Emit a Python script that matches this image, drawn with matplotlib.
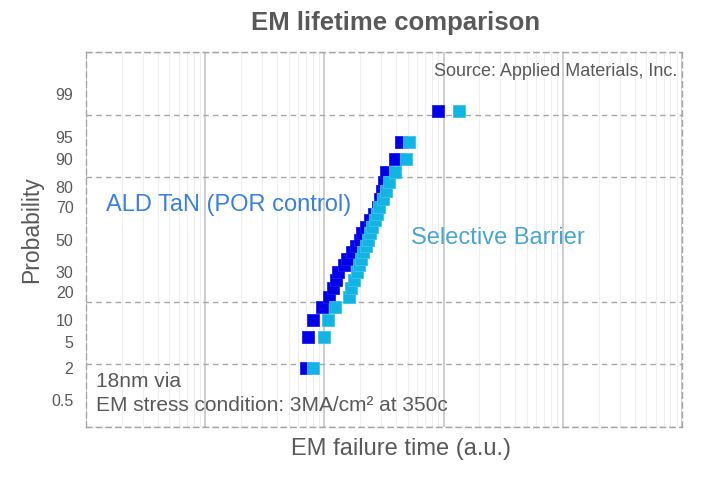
import numpy as np
import matplotlib
matplotlib.use("Agg")
import matplotlib.pyplot as plt
from matplotlib.ticker import FixedLocator, NullFormatter, LogLocator
from statistics import NormalDist

plt.rcParams['font.family'] = ['Liberation Sans', 'DejaVu Sans']

# cumulative failure probability (%) for each ranked sample (25 per split)
prob = [2, 6, 10, 14, 18, 22, 26, 30, 34, 38, 42, 46, 50,
        54, 58, 62, 66, 70, 74, 78, 82, 86, 90, 94, 98]

# failure times (a.u.)
ald_tan = [70, 73, 80, 95, 109, 118, 125, 130, 146, 155, 170, 184, 199,
           207, 223, 241, 261, 282, 293, 304, 316, 329, 391, 439, 898]
selective = [80, 100, 107, 123, 161, 167, 177, 188, 195, 203, 211, 223, 232,
             241, 251, 266, 276, 287, 310, 329, 348, 391, 484, 513, 1346]

prob_ticks = [0.5, 2, 5, 10, 20, 30, 50, 70, 80, 90, 95, 99]
prob_labels = ['0.5', '2', '5', '10', '20', '30', '50', '70', '80', '90', '95', '99']

nd = NormalDist()


def prob_to_z(p):
    p = np.clip(np.asarray(p, dtype=float), 1e-9, 100 - 1e-9)
    return np.array([nd.inv_cdf(v / 100) for v in p.ravel()]).reshape(p.shape)


def z_to_prob(z):
    z = np.asarray(z, dtype=float)
    return np.array([nd.cdf(v) * 100 for v in z.ravel()]).reshape(z.shape)


gray = '#595959'
fig = plt.figure(figsize=(7.16, 4.79), dpi=100)
ax = fig.add_axes([0.1201, 0.1086, 0.8324, 0.7828])

ax.set_xscale('log')
ax.set_yscale('function', functions=(prob_to_z, z_to_prob))

ax.scatter(ald_tan, prob, marker='s', s=75, color='#0000e6',
           edgecolors='#1a1aff', linewidths=0.6, zorder=3)
ax.scatter(selective, prob, marker='s', s=75, color='#12b4e4',
           edgecolors='#3cc2ea', linewidths=0.6, zorder=3)

ax.set_xlim(1, 1e5)
ax.set_ylim(float(z_to_prob(-3)), float(z_to_prob(3)))

# y ticks: labelled probabilities, grid at whole sigma
ax.yaxis.set_major_locator(FixedLocator(prob_ticks))
ax.set_yticklabels(prob_labels)
ax.yaxis.set_minor_locator(FixedLocator(list(z_to_prob(np.arange(-3, 4)))))
ax.yaxis.set_minor_formatter(NullFormatter())
ax.grid(which='minor', axis='y', color='#a6a6a6', linestyle=(0, (4, 3)), linewidth=1.0)

ax.xaxis.set_major_locator(LogLocator(base=10, numticks=10))
ax.xaxis.set_minor_locator(LogLocator(base=10, subs=np.arange(2, 10), numticks=10))
ax.xaxis.set_major_formatter(NullFormatter())
ax.xaxis.set_minor_formatter(NullFormatter())
ax.grid(which='major', axis='x', color='#c6c6c6', linestyle='-', linewidth=1.2)
ax.grid(which='minor', axis='x', color='#efefef', linestyle='-', linewidth=0.8)
ax.set_axisbelow(True)

ax.tick_params(which='both', length=0)
ax.tick_params(axis='y', labelsize=11.5, labelcolor=gray, pad=9)
for s in ax.spines.values():
    s.set_color('#a6a6a6')
    s.set_linestyle((0, (4, 3)))
    s.set_linewidth(1.0)

fig.text(0.552, 0.953, 'EM lifetime comparison', ha='center', va='center',
         fontsize=18.5, fontweight='bold', color=gray)
fig.text(0.044, 0.52, 'Probability', rotation=90, ha='center', va='center',
         fontsize=16.5, color=gray)
fig.text(0.56, 0.062, 'EM failure time (a.u.)', ha='center', va='center',
         fontsize=17, color=gray)

ax.text(0.992, 0.947, 'Source: Applied Materials, Inc.', transform=ax.transAxes,
        ha='right', va='center', fontsize=13, color=gray)
ax.text(0.034, 0.593, 'ALD TaN (POR control)', transform=ax.transAxes,
        ha='left', va='center', fontsize=17, color='#3a80dc')
ax.text(0.545, 0.503, 'Selective Barrier', transform=ax.transAxes,
        ha='left', va='center', fontsize=17, color='#48a6d2')
ax.text(0.016, 0.122, '18nm via', transform=ax.transAxes,
        ha='left', va='center', fontsize=15, color=gray)
ax.text(0.016, 0.058, 'EM stress condition: 3MA/cm² at 350c', transform=ax.transAxes,
        ha='left', va='center', fontsize=15, color=gray)

fig.savefig('out.png', dpi=100)
